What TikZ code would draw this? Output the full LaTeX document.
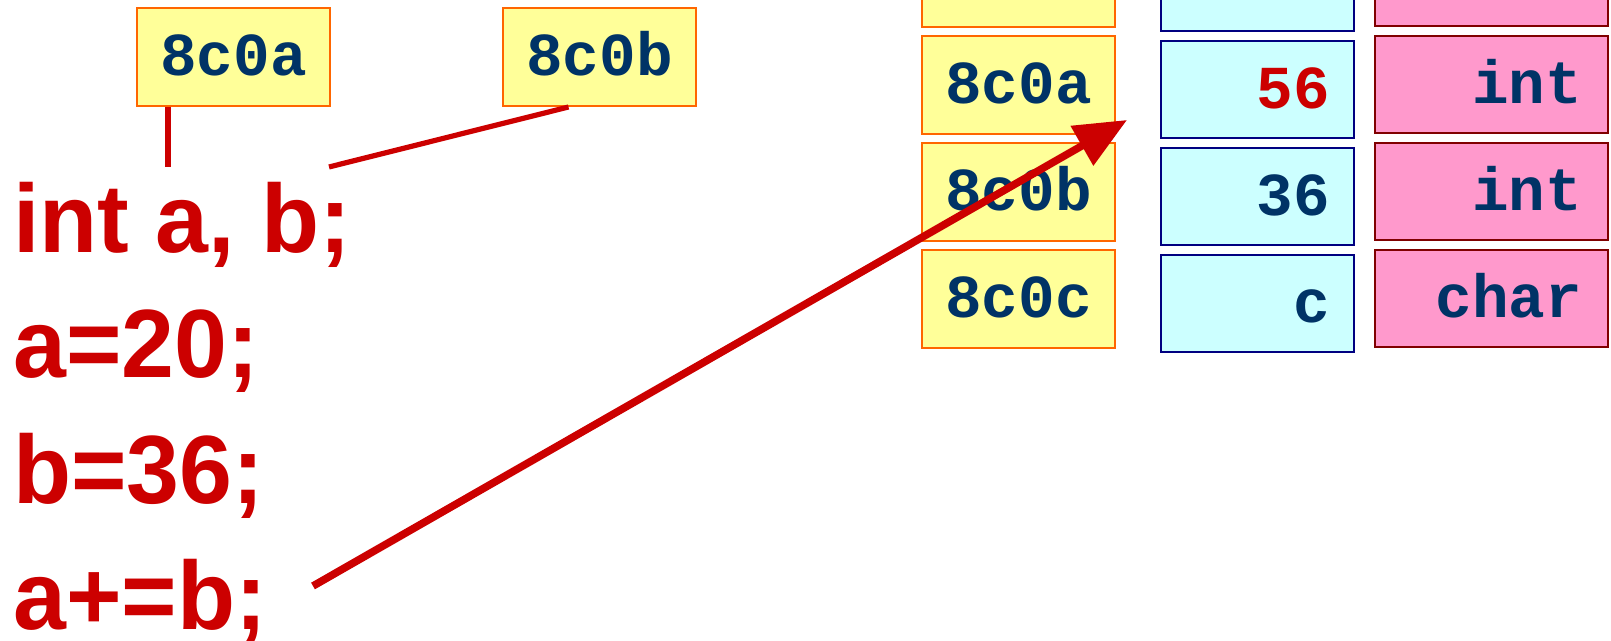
\documentclass[tikz,border=0pt]{standalone}
\usepackage{fontspec}
\usepackage{graphicx}
\setmainfont{Liberation Sans}
\newfontfamily\cellfont{Liberation Mono}
\usetikzlibrary{arrows.meta}

\definecolor{codered}{HTML}{CC0000}
\definecolor{cellink}{HTML}{003366}
\definecolor{addrfill}{HTML}{FFFF99}
\definecolor{addrline}{HTML}{FF6600}
\definecolor{valfill}{HTML}{CCFFFF}
\definecolor{valline}{HTML}{000080}
\definecolor{typefill}{HTML}{FF99CC}
\definecolor{typeline}{HTML}{800000}

\tikzset{
  celltext/.style={font=\cellfont\bfseries\fontsize{30.5}{33}\selectfont,
    text=cellink, text height=19pt, text depth=0pt},
  addrcell/.style={celltext, draw=addrline, fill=addrfill, line width=1pt,
    minimum width=96.5pt, minimum height=49pt, inner sep=0pt},
  valcell/.style={celltext, draw=valline, fill=valfill, line width=1pt,
    minimum width=96.5pt, minimum height=48.5pt, inner xsep=12pt, inner ysep=0pt,
    text width=72.5pt, align=right},
  typecell/.style={celltext, draw=typeline, fill=typefill, line width=1pt,
    minimum width=116.5pt, minimum height=48.5pt, inner xsep=13pt, inner ysep=0pt,
    text width=90.5pt, align=right},
  codeline/.style={anchor=base west, inner sep=0pt, text=codered,
    font=\bfseries\fontsize{48.5}{56}\selectfont},
  link/.style={draw=codered, line width=2.6pt},
  pointer/.style={draw=codered, line width=3.8pt,
    -{Triangle[length=26pt, width=22pt]}},
}

\begin{document}
\begin{tikzpicture}[x=0.5pt, y=-0.5pt]
  \useasboundingbox (0,0) rectangle (1611,641);
  \clip (0,0) rectangle (1611,641);

  % address labels above the declaration
  \node[addrcell] (la) at (233.5,57) {8c0a};
  \node[addrcell] (lb) at (599.5,57) {8c0b};

  % source code
  \node[codeline] (c1) at (13,253) {\scalebox{0.98}[1]{int a, b;}};
  \node[codeline] (c2) at (13,378) {\scalebox{0.98}[1]{a=20;}};
  \node[codeline] (c3) at (13,503) {\scalebox{0.98}[1]{b=36;}};
  \node[codeline] (c4) at (13,629) {\scalebox{0.98}[1]{a+=b;}};

  % memory table: address, value, type
  \node[addrcell] (m0) at (1018.5,-22) {};
  \node[valcell]  (v0) at (1257.5,-17) {};
  \node[typecell] (t0) at (1491.5,-22) {};

  \node[addrcell] (m1) at (1018.5,85) {8c0a};
  \node[valcell]  (v1) at (1257.5,89.5) {\textcolor{codered}{56}};
  \node[typecell] (t1) at (1491.5,85) {int};

  \node[addrcell] (m2) at (1018.5,192) {8c0b};
  \node[valcell]  (v2) at (1257.5,196.5) {36};
  \node[typecell] (t2) at (1491.5,192) {int};

  \node[addrcell] (m3) at (1018.5,299) {8c0c};
  \node[valcell]  (v3) at (1257.5,303.5) {c};
  \node[typecell] (t3) at (1491.5,299) {char};

  % leaders from the labels to the variable names
  \coordinate (va) at (168,167);
  \coordinate (vb) at (329,167);
  \draw[link] (la.south -| va) -- (va);
  \draw[link] ([xshift=-15.5pt]lb.south) -- (vb);

  % the compound assignment writes into a
  \coordinate (from) at (313,586);
  \coordinate (to) at (1127,120);
  \draw[pointer] (from) -- (to);
\end{tikzpicture}
\end{document}
